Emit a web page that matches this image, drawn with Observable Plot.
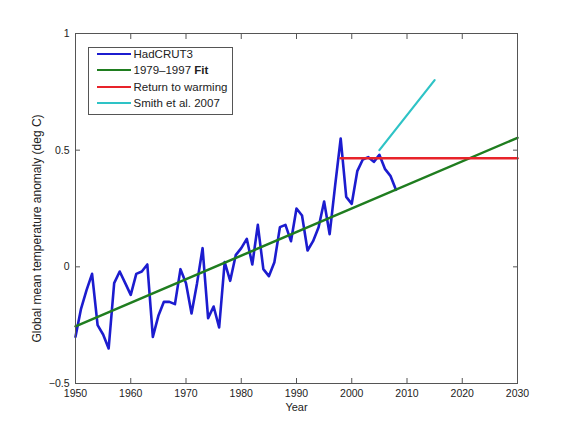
<!DOCTYPE html>
<html>
<head>
<meta charset="utf-8">
<script src="https://cdn.jsdelivr.net/npm/d3@7"></script>
<script src="https://cdn.jsdelivr.net/npm/@observablehq/plot@0.6"></script>
<style>
  body { margin: 0; background: #fff; }
  #chart { position: relative; width: 571px; height: 431px; font-family: "Liberation Sans", Arial, sans-serif; }
  .legend { position: absolute; left: 88px; top: 47px; width: 143px; height: 66px; border: 1px solid #555; background: #fff; font-size: 11.5px; color: #222; }
  .legend .rows { margin-top: -2px; }
  .legend .row { display: flex; align-items: center; height: 16.3px; white-space: nowrap; }
  .legend .swatch { width: 34px; height: 0; border-top: 2.5px solid; margin: 0 3px 0 7.5px; }
</style>
</head>
<body>
<div id="chart"></div>
<script>
// HadCRUT3 annual anomalies
const years = [1950, 1951, 1952, 1953, 1954, 1955, 1956, 1957, 1958, 1959,
  1960, 1961, 1962, 1963, 1964, 1965, 1966, 1967, 1968, 1969,
  1970, 1971, 1972, 1973, 1974, 1975, 1976, 1977, 1978, 1979,
  1980, 1981, 1982, 1983, 1984, 1985, 1986, 1987, 1988, 1989,
  1990, 1991, 1992, 1993, 1994, 1995, 1996, 1997, 1998, 1999,
  2000, 2001, 2002, 2003, 2004, 2005, 2006, 2007, 2008];
const hadcrut = [-0.30, -0.18, -0.10, -0.03, -0.25, -0.29, -0.35, -0.07, -0.02, -0.07,
  -0.12, -0.03, -0.02, 0.01, -0.30, -0.21, -0.15, -0.15, -0.16, -0.01,
  -0.07, -0.20, -0.07, 0.08, -0.22, -0.17, -0.26, 0.02, -0.06, 0.05,
  0.08, 0.12, 0.01, 0.18, -0.01, -0.04, 0.02, 0.17, 0.18, 0.11,
  0.25, 0.22, 0.07, 0.11, 0.17, 0.28, 0.14, 0.35, 0.55, 0.30,
  0.27, 0.41, 0.46, 0.47, 0.45, 0.48, 0.42, 0.39, 0.33];

// 1979-1997 linear fit, drawn across the whole axis
const fitYears = [1950, 2030];
const fitValues = [-0.255, 0.553];

const returnYears = [1998, 2030];
const returnValues = [0.465, 0.465];

const smithYears = [2005, 2015];
const smithValues = [0.50, 0.80];

const xTicks = [1950, 1960, 1970, 1980, 1990, 2000, 2010, 2020, 2030];
const yTicks = [-0.5, 0, 0.5, 1];

const seriesNames = ["HadCRUT3", "1979–1997 Fit", "Return to warming", "Smith et al. 2007"];
const seriesColors = ["#1c1ccf", "#1f7d1f", "#e8232a", "#2ec3c6"];

const axisColor = "#555";

const chart = Plot.plot({
  width: 571,
  height: 431,
  marginTop: 33,
  marginRight: 54,
  marginBottom: 48,
  marginLeft: 75,
  style: {fontFamily: '"Liberation Sans", Arial, sans-serif', fontSize: "10.5px", color: "#222", background: "#fff"},
  x: {domain: [1950, 2030]},
  y: {domain: [-0.5, 1]},
  marks: [
    Plot.axisX({ticks: xTicks, tickSize: -5, tickPadding: 11.5, tickFormat: "d", label: null, stroke: axisColor}),
    Plot.axisX({anchor: "top", ticks: xTicks, tickSize: -5, tickFormat: () => "", label: null, stroke: axisColor}),
    Plot.axisY({ticks: yTicks, tickSize: -5, tickPadding: 11, label: null, stroke: axisColor,
      tickFormat: d => (d < 0 ? "−" : "") + Math.abs(d)}),
    Plot.axisY({anchor: "right", ticks: yTicks, tickSize: -5, tickFormat: () => "", label: null, stroke: axisColor}),
    Plot.line(years, {x: years, y: hadcrut, stroke: seriesColors[0], strokeWidth: 2.6, strokeLinejoin: "round"}),
    Plot.line(fitYears, {x: fitYears, y: fitValues, stroke: seriesColors[1], strokeWidth: 2.5}),
    Plot.line(returnYears, {x: returnYears, y: returnValues, stroke: seriesColors[2], strokeWidth: 2.5}),
    Plot.line(smithYears, {x: smithYears, y: smithValues, stroke: seriesColors[3], strokeWidth: 2.2}),
    Plot.frame({stroke: axisColor}),
    Plot.text(["Year"], {frameAnchor: "bottom", lineAnchor: "middle", dy: 24, fontSize: 11, fill: "#222"}),
    Plot.text(["Global mean temperature anomaly (deg C)"], {frameAnchor: "left", textAnchor: "middle", lineAnchor: "middle",
      rotate: -90, dx: -38, dy: 20, fontSize: 12, fill: "#222"})
  ]
});

const box = d3.select("#chart");
box.append(() => chart);

const legend = box.append("div").attr("class", "legend").append("div").attr("class", "rows");
seriesNames.forEach((name, i) => {
  const row = legend.append("div").attr("class", "row");
  row.append("span").attr("class", "swatch").style("border-top-color", seriesColors[i]);
  row.append("span").html(name.replace("Fit", "<b>Fit</b>"));
});
</script>
</body>
</html>
